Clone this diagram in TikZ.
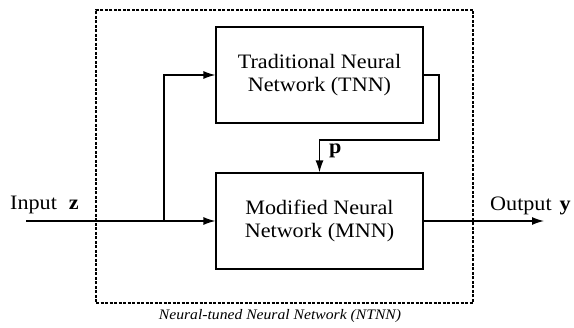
\documentclass[tikz,border=0pt]{standalone}
\usepackage{fontspec}
\setmainfont{Liberation Serif}[FakeStretch=1.08]
\usetikzlibrary{arrows.meta}
\begin{document}
\begin{tikzpicture}[x=1pt,y=-1pt,
  blk/.style={draw,line width=1.2pt,minimum width=207pt,minimum height=96pt,align=center,font=\fontsize{20.5}{22.5}\selectfont,inner sep=0pt},
  frm/.style={draw,line width=1.1pt,dash pattern=on 3pt off 1.5pt,minimum width=377pt,minimum height=293pt,inner sep=0pt},
  conn/.style={line width=1.3pt},
  arr/.style={conn,-{Latex[length=12pt,width=8pt]}},
  lbl/.style={inner sep=0pt,font=\fontsize{20.5}{22}\selectfont}]
\useasboundingbox (0,0) rectangle (574,328);
\node[frm] (frame) at (284.5,156.5) {};
\node[blk] (tnn) at (319.5,75) {Traditional Neural\\Network (TNN)};
\node[blk] (mnn) at (319.5,221) {Modified Neural\\Network (MNN)};
\coordinate (in) at (26,221);
\coordinate (j) at (164,221);
\coordinate (turn) at (439,140);
\coordinate (out) at (544,221);
\draw[conn] (in) -- (j);
\draw[arr] (j) -- (mnn.west);
\draw[arr] (j) |- (tnn.west);
\draw[arr] (tnn.east) -| (turn) -| (mnn.north);
\draw[arr] (mnn.east) -- (out);
\node[lbl,anchor=base west] (plabel) at (329,154) {\textbf{p}};
\node[lbl,anchor=base west] (inlabel) at (10,210) {Input\hspace{12pt}\textbf{z}};
\node[lbl,anchor=base west] (outlabel) at (490,211) {Output\hspace{8pt}\textbf{y}};
\node[inner sep=0pt,anchor=base,font=\fontsize{14.5}{16}\selectfont\itshape] (cap) at (280,320) {Neural-tuned Neural Network (NTNN)};
\end{tikzpicture}
\end{document}
